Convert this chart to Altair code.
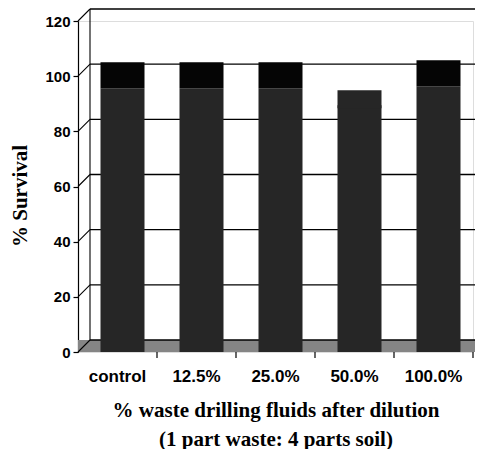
import altair as alt
import pandas as pd

categories = ["control", "12.5%", "25.0%", "50.0%", "100.0%"]
survival = [95.6, 95.6, 95.6, 89.5, 96.3]
y_ticks = [0, 20, 40, 60, 80, 100, 120]

W, H = 395, 331
DX, DY = 12, 12

bars_df = pd.DataFrame({"cat": categories, "survival": survival})
grid_df = pd.DataFrame({"survival": y_ticks})

yscale = alt.Scale(domain=[0, 120], nice=False, zero=True)
yaxis = alt.Axis(
    title="% Survival", values=y_ticks, grid=False,
    domainColor="black", domainWidth=1.2, tickColor="black", tickSize=5, tickWidth=1.2,
    labelFont="Liberation Sans", labelFontWeight="bold", labelFontSize=15, labelColor="black",
    labelPadding=3,
    titleFont="Liberation Serif", titleFontWeight="bold", titleFontSize=21, titleColor="black",
    titlePadding=14, titleY=H / 2 + 9,
)
xaxis = alt.Axis(
    title=["% waste drilling fluids after dilution", "(1 part waste: 4 parts soil)"],
    domain=False, ticks=False, labelAngle=0,
    labelFont="Liberation Sans", labelFontWeight="bold", labelFontSize=17, labelColor="black",
    labelPadding=16,
    titleFont="Liberation Serif", titleFontWeight="bold", titleFontSize=21, titleColor="black",
    titleLineHeight=29, titlePadding=15,
)
xscale = alt.Scale(paddingInner=0, paddingOuter=0)

def X():
    return alt.X("cat:N", sort=categories, scale=xscale, axis=xaxis)

def Y(field="survival:Q"):
    return alt.Y(field, scale=yscale, axis=yaxis)

floor = alt.Chart(grid_df).transform_filter(alt.datum.survival == 0).mark_rect(
    color="#858585", y2Offset=-DY
).encode(x=alt.value(0), x2=alt.value(W + 60), y=Y(), y2="survival:Q")

gridlines = alt.Chart(grid_df).mark_rule(color="black", strokeWidth=1.3, yOffset=-DY).encode(
    x=alt.value(DX), x2=alt.value(W + 60), y=Y()
)

diagonals = alt.Chart(grid_df).mark_rule(color="black", strokeWidth=1.1, y2Offset=-DY).encode(
    x=alt.value(0), x2=alt.value(DX), y=Y(), y2="survival:Q"
)

wall = alt.Chart(grid_df).mark_rule(color="black", strokeWidth=1.1, yOffset=-DY, y2Offset=-DY).encode(
    x=alt.value(DX), y=Y("min(survival):Q"), y2="max(survival):Q"
)

bars = alt.Chart(bars_df).mark_bar(color="#262626", width=44, xOffset=5).encode(
    x=X(), y=Y()
)

caps_black = alt.Chart(bars_df).transform_filter(alt.datum.survival >= 93).mark_bar(
    color="#050505", width=44, xOffset=5, y2Offset=-26
).encode(x=X(), y=Y(), y2="survival:Q")

caps_gray = alt.Chart(bars_df).transform_filter(alt.datum.survival < 93).mark_bar(
    color="#262626", width=44, xOffset=5, yOffset=3, y2Offset=-15
).encode(x=X(), y=Y(), y2="survival:Q")

xticks = alt.Chart(bars_df).mark_rule(color="black", strokeWidth=1.2, xOffset=W / 10).encode(
    x=X(), y=alt.value(H), y2=alt.value(H + 6)
)

chart = alt.layer(
    floor, gridlines, diagonals, wall, bars, caps_black, caps_gray, xticks
).properties(
    width=W, height=H,
    autosize=alt.AutoSizeParams(type="none"),
    padding={"left": 70, "top": 13, "right": 2, "bottom": 97},
).configure_view(stroke=None).configure(background="white")

chart.save("out.html", embed_options={"renderer": "svg", "actions": False})
